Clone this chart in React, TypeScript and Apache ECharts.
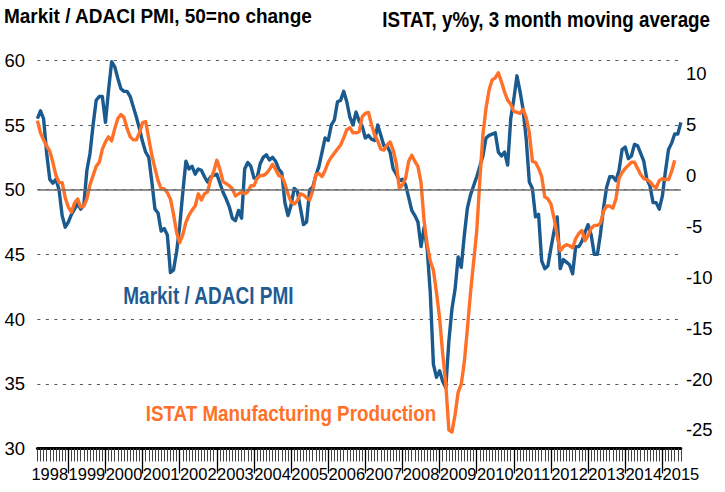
import React, { useEffect, useRef } from "react";
import * as echarts from "echarts";

// Monthly data, March 1998 .. July 2015
const START_YEAR = 1998;
const START_MONTH = 3;

// Markit / ADACI manufacturing PMI (left axis)
const pmi: number[] = [
  55.5, 56.1, 55.5, 52.8, 50.8, 50.5, 50.8, 50.0, 48.0, 47.1,
  47.5, 48.1, 48.5, 48.9, 48.5, 48.8, 51.5, 52.8, 55.0, 56.9,
  57.2, 57.2, 55.2, 57.7, 59.9, 59.5, 58.6, 57.8, 57.6, 57.6,
  57.2, 56.4, 55.6, 54.7, 53.7, 52.9, 52.5, 50.6, 48.5, 48.2,
  46.8, 47.0, 46.5, 43.6, 43.8, 45.2, 47.2, 49.8, 52.2, 51.6,
  51.8, 51.2, 51.6, 51.5, 51.0, 50.6, 51.0, 51.1, 51.2, 50.5,
  49.8, 49.3, 48.7, 47.8, 47.6, 48.4, 47.8, 51.6, 52.1, 51.8,
  50.9, 50.9, 52.0, 52.5, 52.7, 52.3, 52.5, 52.2, 51.6, 51.3,
  49.0, 48.0, 48.8, 50.1, 49.9, 48.6, 47.3, 47.5, 50.0, 50.2,
  51.1, 51.8, 52.9, 54.0, 53.8, 55.0, 55.4, 56.8, 56.9, 57.6,
  56.8, 55.6, 55.0, 56.0, 55.3, 54.9, 54.0, 54.2, 53.9, 53.8,
  55.0, 54.2, 53.4, 53.4, 52.9, 51.6, 51.2, 50.7, 50.8, 50.4,
  49.4, 48.4, 48.0, 47.5, 45.6, 47.1, 45.4, 42.0, 36.5, 35.5,
  36.0, 35.2, 34.7, 38.3, 40.8, 42.3, 44.8, 44.0, 46.5, 48.6,
  49.6, 50.3, 51.0, 51.8, 52.6, 54.0, 54.2, 54.3, 54.4, 52.9,
  52.6, 52.9, 51.9, 55.5, 57.0, 58.8, 57.6, 56.2, 53.9, 50.6,
  50.1, 47.9, 48.1, 44.5, 43.9, 44.1, 45.5, 46.8, 47.9, 43.9,
  44.6, 44.4, 44.2, 43.5, 45.6, 45.6, 46.0, 46.7, 47.3, 46.5,
  45.0, 45.0, 46.6, 48.6, 50.2, 51.0, 51.0, 50.7, 51.5, 53.1,
  53.3, 52.4, 52.6, 53.5, 53.4, 52.8, 52.2, 50.8, 50.3, 49.0,
  49.0, 48.5, 49.5, 51.4, 53.1, 53.6, 54.3, 54.3, 55.2,
];

// ISTAT manufacturing production, % y/y, 3mma (right axis)
const istat: number[] = [
  5.4, 4.2, 3.5, 2.9, 2.4, 1.3, 0.0, -0.7, -0.7, -2.2,
  -3.1, -3.6, -2.7, -2.3, -3.1, -3.0, -2.3, -0.9, 0.0, 0.9,
  1.3, 2.6, 3.3, 3.8, 3.4, 4.6, 5.6, 6.0, 5.7, 4.6,
  3.8, 3.5, 3.5, 4.2, 5.2, 5.3, 3.6, 2.0, 0.7, -0.5,
  -1.3, -1.3, -1.7, -2.3, -3.8, -5.6, -6.6, -5.8, -4.6, -3.9,
  -3.4, -3.0, -1.8, -2.4, -1.8, -1.6, -0.4, 0.4, 1.5, 0.6,
  -0.6, -0.8, -1.0, -1.3, -2.0, -1.8, -1.6, -1.8, -1.6, -1.0,
  -1.0, -0.3, 0.0, 0.0, 0.2, 0.6, 1.1, 0.6, 0.0, -0.1,
  -0.8, -1.8, -2.6, -2.8, -2.5, -1.8, -1.9, -2.2, -2.4, -1.5,
  0.1, 0.2, -0.1, 0.5, 1.3, 1.8, 2.2, 2.6, 3.0, 3.7,
  4.5, 4.7, 4.2, 4.2, 4.3, 5.8, 6.1, 6.2, 5.0, 4.0,
  3.4, 2.6, 2.5, 3.0, 3.3, 2.5, 1.2, -1.3, -0.9, -0.3,
  1.4, 2.0, 1.4, 0.9, -0.7, -4.5, -6.8, -8.4, -9.3, -11.5,
  -14.0, -17.5, -20.5, -25.0, -25.2, -23.5, -21.3, -20.5, -18.3, -15.0,
  -11.5, -8.5, -5.5, -0.5, 4.0, 6.6, 8.4, 9.4, 9.6, 10.1,
  9.2, 8.2, 7.4, 7.0, 6.3, 6.2, 6.1, 6.5, 5.7, 4.2,
  1.4, 1.3, 0.7, -0.1, -2.1, -2.3, -2.8, -4.2, -5.9, -7.4,
  -7.0, -6.8, -6.9, -7.1, -6.2, -5.7, -5.4, -6.4, -5.9, -5.2,
  -4.9, -4.9, -4.7, -3.5, -3.0, -3.0, -3.2, -2.3, -0.3, 0.3,
  0.7, 1.0, 1.3, 1.3, 0.7, 0.1, -0.3, -0.4, -0.6, -1.0,
  -1.2, -0.5, -0.3, -0.4, -0.4, 0.4, 1.5,
];

const LEFT_TICKS = [30, 35, 40, 45, 50, 55, 60];
const RIGHT_TICKS = [-25, -20, -15, -10, -5, 0, 5, 10];

const TITLE_LEFT = "Markit / ADACI PMI, 50=no change";
const TITLE_RIGHT = "ISTAT, y%y, 3 month moving average";
const LABEL_PMI = "Markit / ADACI PMI";
const LABEL_ISTAT = "ISTAT Manufacturing Production";

const BLUE = "#1b5a8e";
const ORANGE = "#ff7128";
const FONT = '"Liberation Sans", Arial, Helvetica, sans-serif';

const months: string[] = [];
{
  let y = START_YEAR;
  let m = START_MONTH;
  for (let i = 0; i < pmi.length; i++) {
    months.push(`${y}-${String(m).padStart(2, "0")}`);
    m++;
    if (m > 12) {
      m = 1;
      y++;
    }
  }
}

export default function App() {
  const ref = useRef<HTMLDivElement>(null);
  useEffect(() => {
    if (!ref.current) return;
    const chart = echarts.init(ref.current, undefined, { renderer: "svg" });
    const W = 725;
    const H = 492;
    const gLeft = 37.4;
    const gRight = 680.9;
    const gTop = 60.3;
    const gBottom = 448.5;
    const baseX = {
      type: "category" as const,
      data: months,
      boundaryGap: false,
      position: "bottom" as const,
      gridIndex: 0,
      splitLine: { show: false },
    };
    chart.setOption({
      animation: false,
      textStyle: { fontFamily: FONT },
      grid: {
        left: gLeft,
        right: W - gRight,
        top: gTop,
        bottom: H - gBottom,
        containLabel: false,
      },
      xAxis: [
        {
          ...baseX,
          axisLine: { show: true, onZero: false, lineStyle: { color: "#000", width: 3 } },
          axisTick: {
            show: true,
            interval: 0,
            length: 13,
            lineStyle: { color: "#444", width: 1 },
          },
          axisLabel: { show: false },
        },
        {
          ...baseX,
          axisLine: { show: false, onZero: false },
          axisTick: {
            show: true,
            interval: (i: number) => months[i].endsWith("-01"),
            length: 25,
            lineStyle: { color: "#000", width: 1.3 },
          },
          axisLabel: { show: false },
        },
        {
          ...baseX,
          axisLine: { show: false, onZero: false },
          axisTick: { show: false },
          axisLabel: {
            show: true,
            interval: (i: number) => months[i].endsWith("-07"),
            formatter: (v: string) => v.slice(0, 4),
            fontSize: 16.5,
            color: "#000",
            margin: 17,
            fontFamily: FONT,
          },
        },
      ],
      yAxis: [
        {
          type: "value",
          position: "left",
          min: LEFT_TICKS[0],
          max: LEFT_TICKS[LEFT_TICKS.length - 1],
          interval: 5,
          axisLine: { show: false },
          axisTick: { show: false },
          axisLabel: {
            fontSize: 18.5,
            color: "#000",
            margin: 12.4,
            padding: [9, 0, 0, 0],
            fontFamily: FONT,
          },
          splitLine: {
            show: true,
            lineStyle: { color: "#555", type: [3, 5.5], width: 1 },
          },
        },
        {
          type: "value",
          position: "right",
          min: -26.82,
          max: 11.32,
          axisLine: { show: false },
          axisTick: { show: false },
          axisLabel: {
            customValues: RIGHT_TICKS,
            fontSize: 18.5,
            color: "#000",
            margin: 5,
            padding: [9, 0, 0, 0],
            fontFamily: FONT,
          },
          splitLine: { show: false },
        },
      ],
      series: [
        {
          type: "line",
          name: "zero",
          data: [],
          xAxisIndex: 0,
          yAxisIndex: 0,
          silent: true,
          markLine: {
            silent: true,
            symbol: "none",
            label: { show: false },
            lineStyle: { color: "#6e6e6e", type: "solid", width: 1.6 },
            data: [{ yAxis: 50 }],
          },
        },
        {
          type: "line",
          name: LABEL_PMI,
          data: pmi,
          xAxisIndex: 0,
          yAxisIndex: 0,
          showSymbol: false,
          symbol: "none",
          lineStyle: { color: BLUE, width: 3.4, join: "round" },
          itemStyle: { color: BLUE },
        },
        {
          type: "line",
          name: LABEL_ISTAT,
          data: istat,
          xAxisIndex: 0,
          yAxisIndex: 1,
          showSymbol: false,
          symbol: "none",
          lineStyle: { color: ORANGE, width: 3.4, join: "round" },
          itemStyle: { color: ORANGE },
        },
      ],
      graphic: [
        {
          type: "text",
          x: 4,
          y: 5.6,
          scaleY: 1.06,
          style: {
            text: TITLE_LEFT,
            font: `bold 19px ${FONT}`,
            fill: "#000",
            verticalAlign: "top",
          },
        },
        {
          type: "text",
          x: 710,
          y: 7.2,
          scaleY: 1.18,
          style: {
            text: TITLE_RIGHT,
            font: `bold 18.8px ${FONT}`,
            fill: "#000",
            align: "right",
            verticalAlign: "top",
          },
        },
        {
          type: "text",
          x: 123.3,
          y: 284.2,
          scaleY: 1.23,
          style: {
            text: LABEL_PMI,
            font: `bold 19px ${FONT}`,
            fill: "#1f5c93",
            verticalAlign: "top",
          },
        },
        {
          type: "text",
          x: 145.7,
          y: 402.1,
          scaleY: 1.17,
          style: {
            text: LABEL_ISTAT,
            font: `bold 18.8px ${FONT}`,
            fill: ORANGE,
            verticalAlign: "top",
          },
        },
      ],
    });
    return () => chart.dispose();
  }, []);
  return (
    <div
      ref={ref}
      style={{ position: "fixed", left: 0, top: 0, width: 725, height: 492, background: "#fff" }}
    />
  );
}
